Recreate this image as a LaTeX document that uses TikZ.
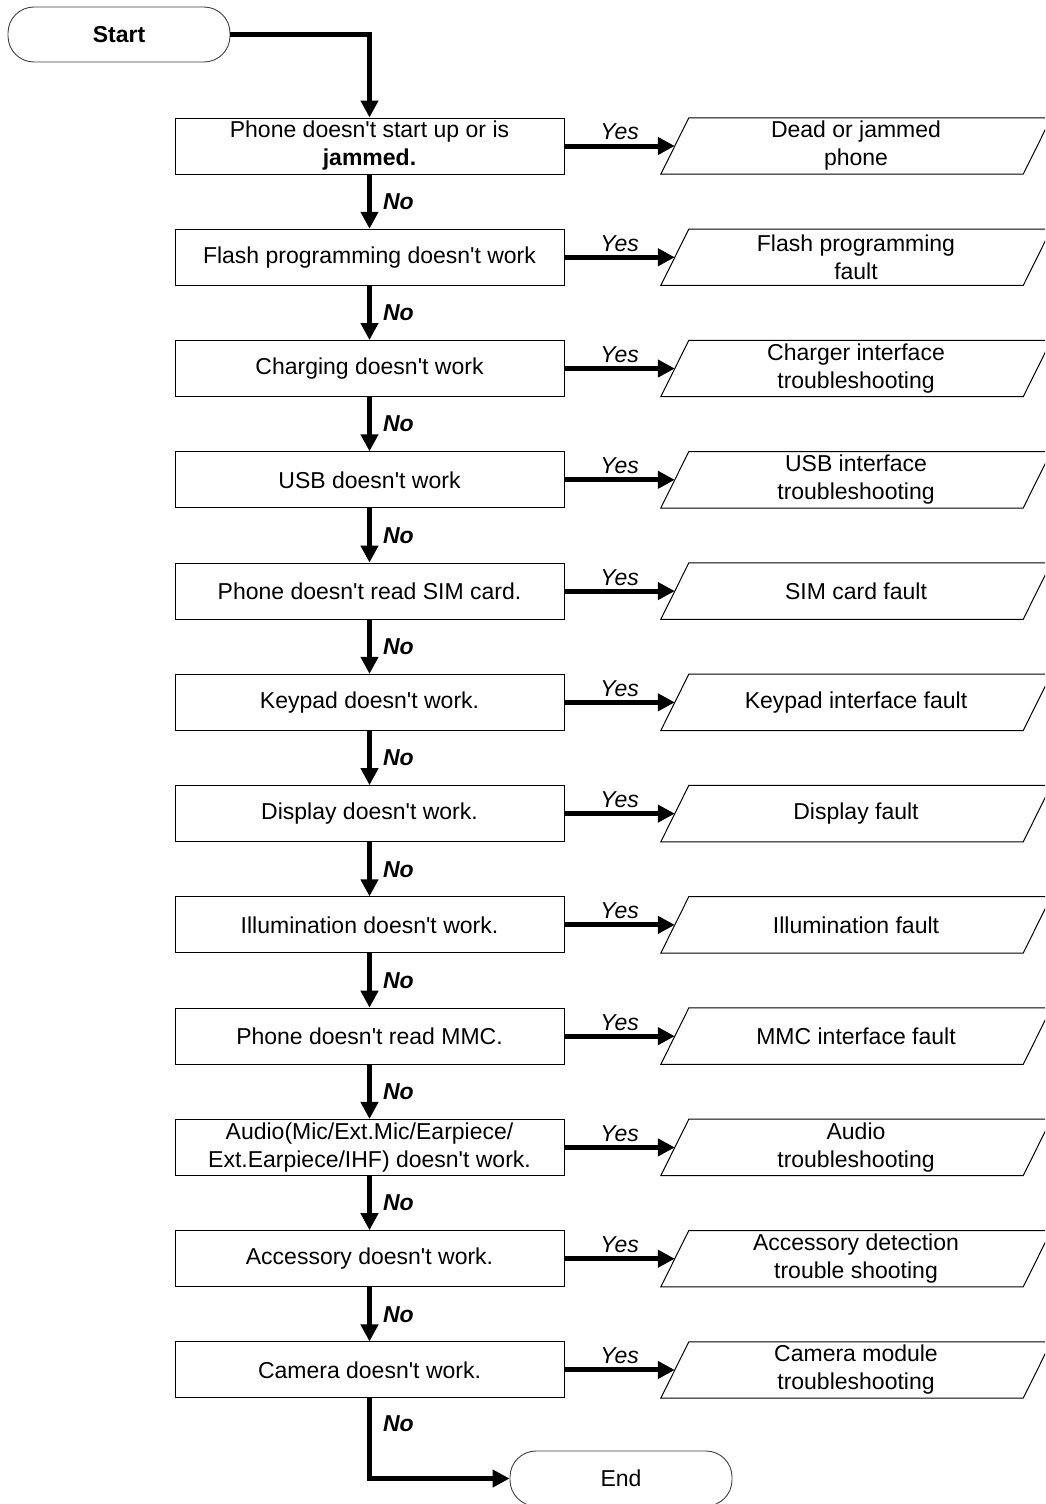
\documentclass[tikz,border=0pt]{standalone}
\usepackage{fontspec}
\setmainfont{Liberation Sans}
\usetikzlibrary{arrows.meta,calc}
\newcommand{\apo}{\textquotesingle}

\begin{document}
\begin{tikzpicture}[x=1pt,y=-1pt,
  txt/.style={font=\fontsize{23}{28}\selectfont},
  decision/.style={txt, draw, line width=1pt, minimum width=389pt, minimum height=56pt,
    align=center, inner sep=0pt},
  outcome/.style={txt, minimum width=362pt, minimum height=56pt, align=center, inner sep=0pt},
  terminal/.style={txt, draw=black!75, line width=0.9pt, rounded corners=26pt,
    minimum width=222pt, minimum height=55pt},
  flow/.style={line width=5pt, -{Triangle[length=17pt,width=17pt]}},
  yeslabel/.style={font=\fontsize{23}{28}\selectfont\itshape, above},
  nolabel/.style={font=\fontsize{23}{28}\selectfont\bfseries\itshape, right, inner sep=0pt, xshift=11pt}]

  \clip (0,0) rectangle (1045,1504);

  % terminals
  \node[terminal] (start) at (119,34.5) {\bfseries Start};
  \node[terminal] (end) at (621,1478.5) {End};

  % questions and their outcomes, one row each
  \foreach \i/\q/\a in {
     0/{Phone doesn\apo t start up or is\\\textbf{jammed.}}/{Dead or jammed\\phone},
     1/{Flash programming doesn\apo t work}/{Flash programming\\fault},
     2/{Charging doesn\apo t work}/{Charger interface\\troubleshooting},
     3/{USB doesn\apo t work}/{USB interface\\troubleshooting},
     4/{Phone doesn\apo t read SIM card.}/{SIM card fault},
     5/{Keypad doesn\apo t work.}/{Keypad interface fault},
     6/{Display doesn\apo t work.}/{Display fault},
     7/{Illumination doesn\apo t work.}/{Illumination fault},
     8/{Phone doesn\apo t read MMC.}/{MMC interface fault},
     9/{Audio(Mic/Ext.Mic/Earpiece/\\Ext.Earpiece/IHF) doesn\apo t work.}/{Audio\\troubleshooting},
    10/{Accessory doesn\apo t work.}/{Accessory detection\\trouble shooting},
    11/{Camera doesn\apo t work.}/{Camera module\\troubleshooting}} {
    \node[decision] (d\i) at (369.5,{146+111.27*\i}) {\q};
    \node[outcome] (r\i) at (856,{146+111.27*\i}) {\a};
    % slanted outline of the outcome box
    \draw[line width=1pt]
      ($(r\i.north west)+(14,0)$) -- ($(r\i.north east)+(14,0)$) --
      ($(r\i.south east)-(14,0)$) -- ($(r\i.south west)-(14,0)$) -- cycle;
    \draw[flow] (d\i.east) -- node[yeslabel] {Yes} (r\i.west);
  }

  % main chain
  \draw[flow] (start.east) -| (d0.north);
  \foreach \i [evaluate=\i as \j using int(\i+1)] in {0,...,10} {
    \draw[flow] (d\i.south) -- node[nolabel] {No} (d\j.north);
  }
  \draw[flow] (d11.south) |- node[nolabel, pos=0.16] {No} (end.west);
\end{tikzpicture}
\end{document}
